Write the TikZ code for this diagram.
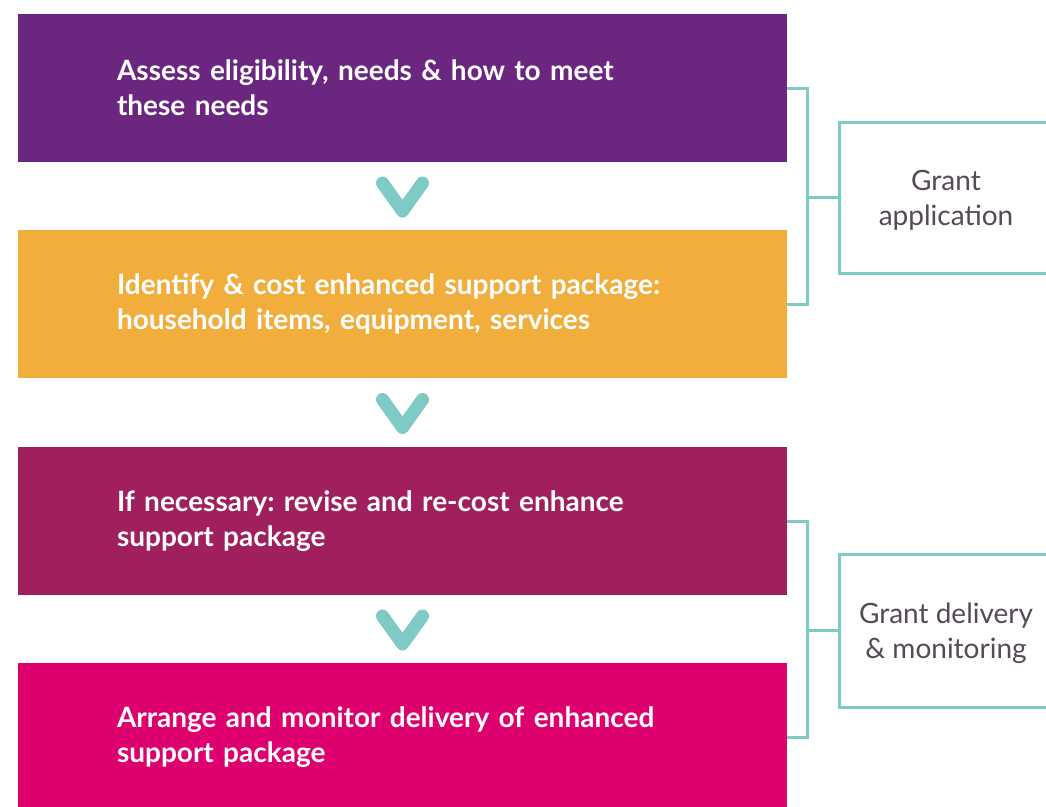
\documentclass[tikz,border=0pt]{standalone}
\usepackage{fontspec}
\setmainfont{Lato}
\usepackage{xcolor}
\usetikzlibrary{calc}
\frenchspacing

\definecolor{stepPurple}{HTML}{6B2780}
\definecolor{stepOrange}{HTML}{F2AE3C}
\definecolor{stepPlum}{HTML}{A0205E}
\definecolor{stepPink}{HTML}{DE006F}
\definecolor{teal}{HTML}{7ECAC4}
\definecolor{labelGrey}{HTML}{574956}

\begin{document}
\begin{tikzpicture}[x=1pt, y=-1pt,
    stage/.style={rectangle, draw=none, minimum width=769pt, minimum height=148pt,
      inner xsep=99pt, text width=571pt, align=left, text=white,
      font=\fontsize{28}{35}\selectfont\bfseries},
    phase/.style={rectangle, draw=teal, line width=3pt, minimum width=214pt},
    phasetext/.style={align=center, text=labelGrey, font=\fontsize{28}{35}\selectfont},
    link/.style={draw=teal, line width=3pt},
    chevron/.style={draw=teal, line width=13pt, line cap=round, line join=round}]
  % page frame
  \useasboundingbox (0,0) rectangle (1046,806);
  \clip (0,0) rectangle (1046,806);

  % the four steps
  \node[stage, fill=stepPurple] (s1) at (402.5,88)
    {Assess eligibility, needs \& how to meet\\these needs};
  \node[stage, fill=stepOrange] (s2) at (402.5,304)
    {Identify \& cost enhanced support package:\\household items, equipment, services};
  \node[stage, fill=stepPlum] (s3) at (402.5,521)
    {If necessary: revise and re-cost enhance\\support package};
  \node[stage, fill=stepPink] (s4) at (402.5,737)
    {Arrange and monitor delivery of enhanced\\support package};

  % chevrons between the steps
  \foreach \a/\b in {s1/s2, s2/s3, s3/s4}
    \draw[chevron] ($(\a.south)!0.5!(\b.north)+(-20,-13)$) -- ++(20,28) -- ++(20,-28);

  % phase boxes on the right, text set a little low
  \node[phase, minimum height=151pt] (g1) at (946,197.5) {};
  \node[phasetext] (g1text) at ($(g1.center)+(0,3)$) {Grant\\application};
  \node[phase, minimum height=153pt] (g2) at (946,630.5) {};
  \node[phasetext] (g2text) at ($(g2.center)+(0,3)$) {Grant delivery\\\& monitoring};

  % brackets
  \draw[link] (s1.east) -- ++(20,0) |- (s2.east);
  \draw[link] (g1.west) -- ++(-32,0);
  \draw[link] (s3.east) -- ++(20,0) |- (s4.east);
  \draw[link] (g2.west) -- ++(-32,0);
\end{tikzpicture}
\end{document}
